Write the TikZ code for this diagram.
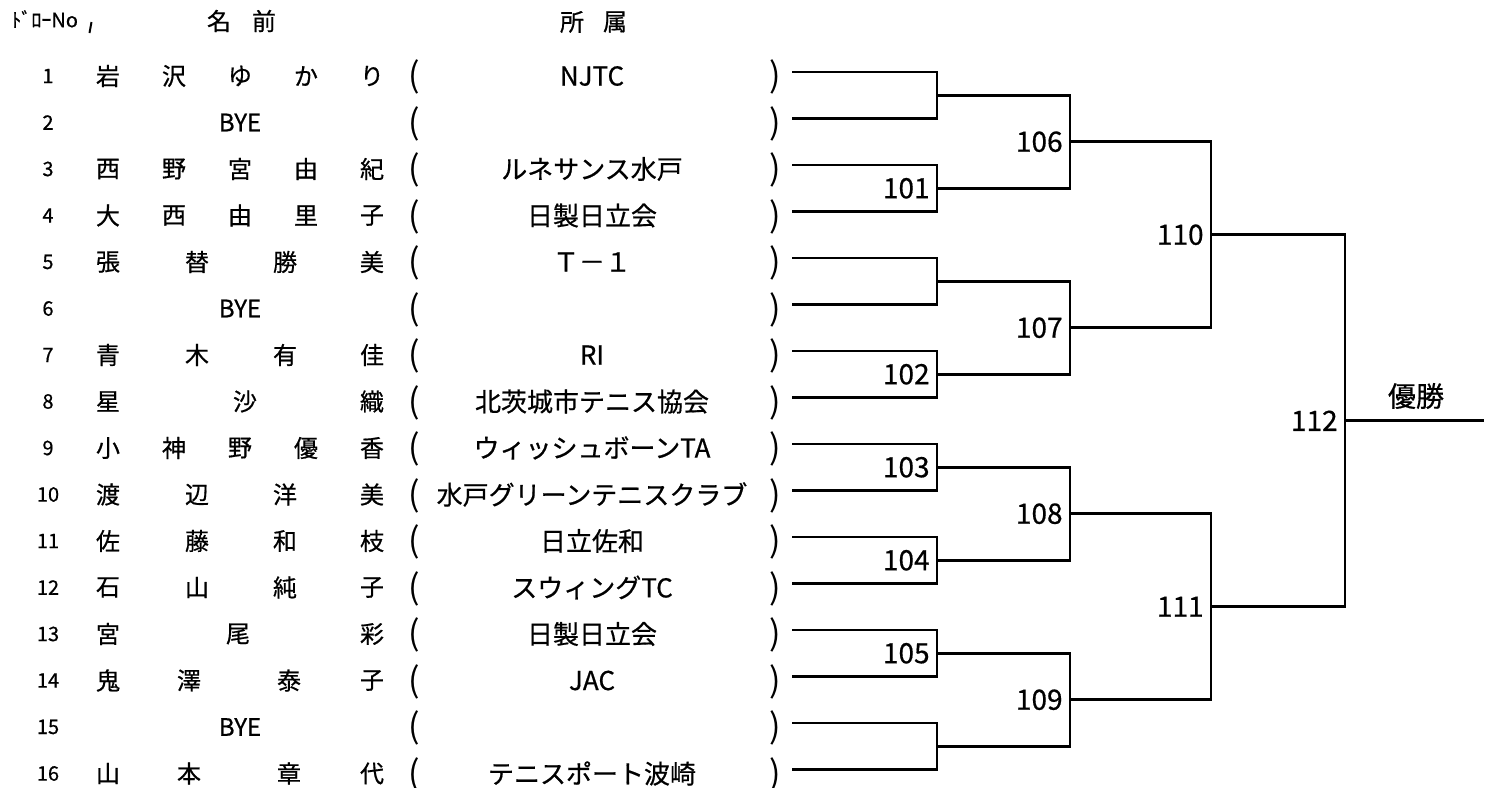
\documentclass[tikz,border=0pt]{standalone}
\usepackage{fontspec}
\setmainfont{Noto Sans CJK JP}[FakeBold=0.6]
\newfontfamily\thinfont{Noto Sans CJK JP}
\usetikzlibrary{calc}

\begin{document}
\begin{tikzpicture}[x=0.5pt, y=-0.5pt,
  bline/.style={black, line width=1.4pt, line cap=rect},
  num/.style={font=\fontsize{10}{10}\selectfont},
  nm/.style={font=\fontsize{12}{12}\selectfont},
  club/.style={font=\fontsize{13}{13}\selectfont},
  paren/.style={font=\thinfont\fontsize{17}{17}\selectfont, inner sep=0},
  mno/.style={font=\fontsize{14}{14}\selectfont, anchor=east, inner sep=1pt, xshift=-2.5pt}]
\useasboundingbox (0,0) rectangle (1499,787);
% header
\node[font=\fontsize{10}{10}\selectfont, anchor=west, inner sep=0] (hno) at (11,19) {ﾄﾞﾛｰNo};
\draw[line width=1pt] (91.5,22) -- (89.5,33);
\node[nm] (hna) at (219,21) {名};
\node[nm] (hnb) at (264,21) {前};
\node[nm] (hca) at (572,22) {所};
\node[nm] (hcb) at (615,22) {属};
% players
\foreach \r/\cl/\nm in {
  1/NJTC/{108/岩,174/沢,240/ゆ,306/か,372/り},
  2//{240/BYE},
  3/ルネサンス水戸/{108/西,174/野,240/宮,306/由,372/紀},
  4/日製日立会/{108/大,174/西,240/由,306/里,372/子},
  5/Ｔ－１/{108/張,197/替,285/勝,372/美},
  6//{240/BYE},
  7/RI/{108/青,197/木,285/有,372/佳},
  8/北茨城市テニス協会/{108/星,245/沙,372/織},
  9/ウィッシュボーンTA/{108/小,174/神,240/野,306/優,372/香},
  10/水戸グリーンテニスクラブ/{108/渡,197/辺,285/洋,372/美},
  11/日立佐和/{108/佐,197/藤,285/和,372/枝},
  12/スウィングTC/{108/石,197/山,285/純,372/子},
  13/日製日立会/{108/宮,238/尾,372/彩},
  14/JAC/{108/鬼,189/澤,289/泰,372/子},
  15//{240/BYE},
  16/テニスポート波崎/{108/山,189/本,289/章,372/代}}{
 \pgfmathsetmacro\yy{72+46.5*(\r-1)}
 \node[num] (no\r) at (48,\yy+4) {\r};
 \foreach \x/\c in \nm {\node[nm] (nm\r-\x) at (\x,\yy+4) {\c};}
 \node[paren] (lp\r) at (414,\yy+5) {(};
 \node[paren] (rp\r) at (775,\yy+5) {)};
 \node[club] (cl\r) at (592,\yy+4) {\cl};
 \coordinate (s\r) at (793,\yy);
 \coordinate (t\r) at (937,\yy);
 \draw[bline] (s\r) -- (t\r);
}
% bracket
\foreach \p [evaluate=\p as \a using int(2*\p-1), evaluate=\p as \b using int(2*\p)] in {1,...,8}{
 \draw[bline] (t\a) -- (t\b);
 \coordinate (m\p) at ($(t\a)!.5!(t\b)$);
 \coordinate (u\p) at ($(m\p)+(133,0)$);
 \draw[bline] (m\p) -- (u\p);
}
\foreach \p [evaluate=\p as \a using int(2*\p-1), evaluate=\p as \b using int(2*\p)] in {1,...,4}{
 \draw[bline] (u\a) -- (u\b);
 \coordinate (v\p) at ($(u\a)!.5!(u\b)$);
 \coordinate (w\p) at ($(v\p)+(141,0)$);
 \draw[bline] (v\p) -- (w\p);
}
\foreach \p [evaluate=\p as \a using int(2*\p-1), evaluate=\p as \b using int(2*\p)] in {1,2}{
 \draw[bline] (w\a) -- (w\b);
 \coordinate (z\p) at ($(w\a)!.5!(w\b)$);
 \coordinate (f\p) at ($(z\p)+(134,0)$);
 \draw[bline] (z\p) -- (f\p);
}
\draw[bline] (f1) -- (f2);
\coordinate (fin) at ($(f1)!.5!(f2)$);
\coordinate (goal) at ($(fin)+(138,0)$);
\draw[bline] (fin) -- (goal);
\foreach \c/\lb in {m2/101,m4/102,m5/103,m6/104,m7/105,v1/106,v2/107,v3/108,v4/109,z1/110,z2/111,fin/112}
 \node[mno] (l\lb) at (\c) {\lb};
\node[font=\fontsize{14}{14}\selectfont] (win) at (1416,396) {優勝};
\end{tikzpicture}
\end{document}
